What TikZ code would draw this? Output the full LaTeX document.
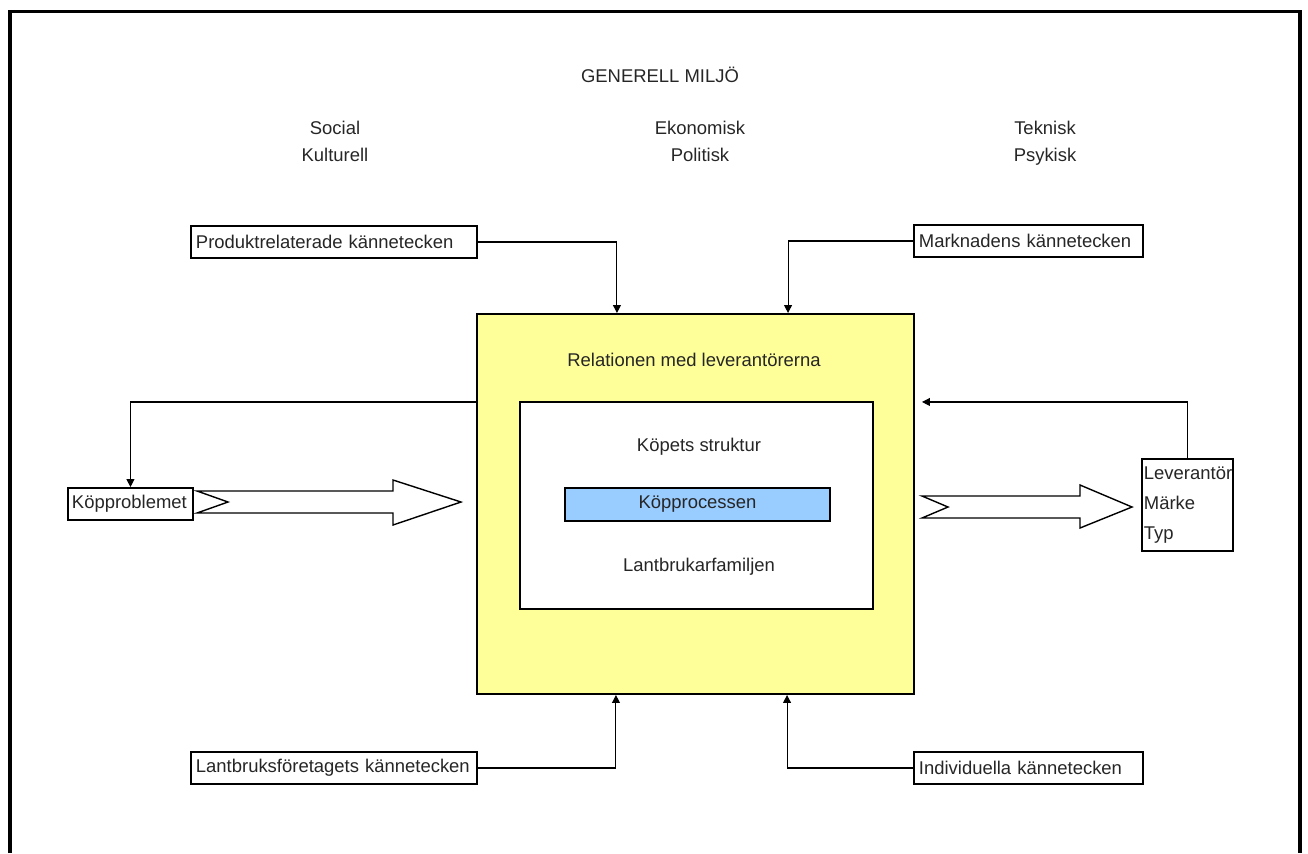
\documentclass[tikz,border=0pt]{standalone}
\usepackage{fontspec}
\setmainfont{Liberation Sans}
\usepackage{tikz}
\usetikzlibrary{arrows.meta}
\definecolor{paleyellow}{HTML}{FFFF99}
\definecolor{paleblue}{HTML}{99CCFF}

\begin{document}
\begin{tikzpicture}[x=0.02cm,y=-0.02cm,
	every node/.style={font=\fontsize{10.5}{15.4}\selectfont, text=black!85},
	lbox/.style={draw, line width=1.1pt, fill=white, inner sep=0.1cm, align=left, anchor=west, minimum height=0.64cm},
	conn/.style={line width=0.6pt, -{Triangle[length=4.5pt,width=4.5pt]}},
	hollow/.style={draw, line width=0.8pt, fill=white}]
	\useasboundingbox (0,0) rectangle (1308,853);
	%
	%  FRAME
	%
	\draw[line width=2pt] (10,853) -- (10,11.5) -- (1300,11.5) -- (1300,853);
	\node (gen) at (660,75) {GENERELL MILJÖ};
	\node[align=center] (soc) at (335,141) {Social\\Kulturell};
	\node[align=center] (eko) at (700,141) {Ekonomisk\\Politisk};
	\node[align=center] (tek) at (1045,143.5) {Teknisk\\Psykisk};
	%
	%  CENTRE
	%
	\node[draw, line width=1.2pt, fill=paleyellow, minimum width=8.74cm, minimum height=7.6cm] (yel) at (695.5,504) {};
	\node (rel) at (694,360) {Relationen med leverantörerna};
	\node[draw, line width=1.1pt, fill=white, minimum width=7.06cm, minimum height=4.14cm] (inner) at (696.5,505.5) {};
	\node (struct) at (699,447) {Köpets struktur};
	\node[draw, line width=1.1pt, fill=paleblue, minimum width=5.3cm, minimum height=0.66cm] (proc) at (697.5,504.5) {Köpprocessen};
	\node (fam) at (699,567) {Lantbrukarfamiljen};
	%
	%  FACTORS
	%
	\node[lbox, text width=5.52cm] (prod) at (190,242) {Produktrelaterade kännetecken};
	\node[lbox, text width=4.38cm] (mark) at (913,241) {Marknadens kännetecken};
	\node[lbox, text width=5.52cm] (lant) at (190,768) {Lantbruksföretagets kännetecken};
	\node[lbox, text width=4.38cm] (indiv) at (913,768) {Individuella kännetecken};
	\node[lbox, text width=2.34cm, inner sep=0.08cm] (kp) at (67,504) {Köpproblemet};
	\node[lbox, text width=1.74cm, inner sep=0.04cm, minimum height=1.84cm,
		font=\fontsize{10.5}{17}\selectfont] (lev) at (1141,505) {Leverantör\\Märke\\Typ};
	%
	%  BIG ARROWS
	%
	\draw[hollow] (197,491) -- (393,491) -- (393,480) -- (461,502) -- (393,525) -- (393,513) -- (197,513) -- (228,502) -- cycle;
	\draw[hollow] (922,496) -- (1080,496) -- (1080,485) -- (1132,507) -- (1080,528) -- (1080,518) -- (922,518) -- (948,507) -- cycle;
	%
	%  CONNECTORS
	%
	\draw[conn] (prod.east) -| ([xshift=2.82cm]yel.north west);
	\draw[conn] (mark.west) -| ([xshift=-2.54cm]yel.north east);
	\draw[conn] (lant.east) -| ([xshift=2.8cm]yel.south west);
	\draw[conn] (indiv.west) -| ([xshift=-2.56cm]yel.south east);
	\draw[conn] ([yshift=-1.78cm]yel.north west) -| (kp.north);
	\draw[conn] (lev.north) |- ([xshift=0.14cm,yshift=-1.78cm]yel.north east);
\end{tikzpicture}
\end{document}
